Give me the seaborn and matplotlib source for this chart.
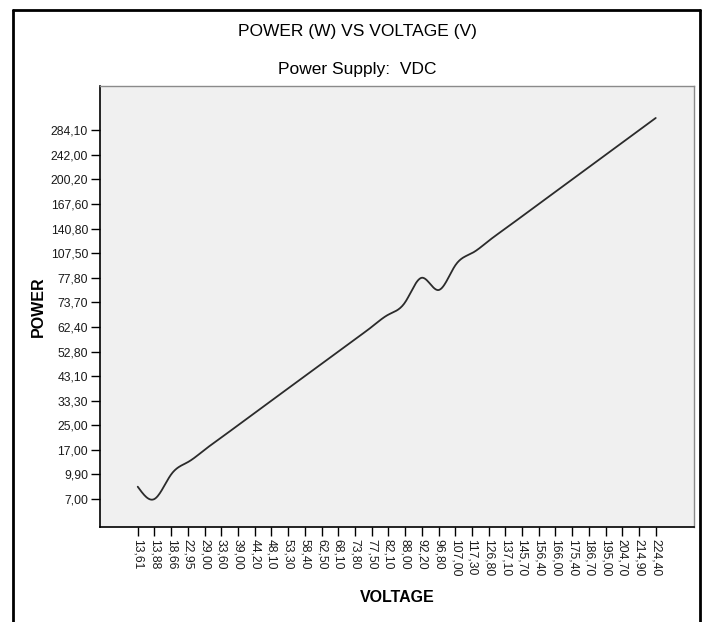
import numpy as np
import pandas as pd
import matplotlib
matplotlib.use("Agg")
import matplotlib.pyplot as plt
import seaborn as sns

# Data (comma decimals as shown by SPSS)
voltage_labels = ["13,61", "13,88", "18,66", "22,95", "29,00", "33,60", "39,00", "44,20",
                  "48,10", "53,30", "58,40", "62,50", "68,10", "73,80", "77,50", "82,10",
                  "88,00", "92,20", "96,80", "107,00", "117,30", "126,80", "137,10", "145,70",
                  "156,40", "166,00", "175,40", "186,70", "195,00", "204,70", "214,90", "224,40"]
# power for each voltage (odd categories are unlabeled on the chart, estimated)
power_values = [8.20, 7.00, 9.90, 13.40, 17.00, 21.00, 25.00, 29.10,
                33.30, 38.20, 43.10, 47.90, 52.80, 57.60, 62.40, 68.00,
                73.70, 77.80, 75.90, 92.60, 107.50, 124.10, 140.80, 154.20,
                167.60, 183.90, 200.20, 221.10, 242.00, 263.00, 284.10, 305.20]

# both axes are categorical, so positions are category ranks
power_sorted = sorted(power_values)
x_pos = np.arange(len(voltage_labels), dtype=float)
y_pos = np.array([power_sorted.index(p) for p in power_values], dtype=float)


def natural_spline(x, y, xs):
    # plain natural cubic spline, SPSS draws the line interpolated like this
    n = len(x)
    h = np.diff(x)
    A = np.zeros((n, n))
    b = np.zeros(n)
    A[0, 0] = 1
    A[-1, -1] = 1
    for i in range(1, n - 1):
        A[i, i - 1] = h[i - 1]
        A[i, i] = 2 * (h[i - 1] + h[i])
        A[i, i + 1] = h[i]
        b[i] = 3 * ((y[i + 1] - y[i]) / h[i] - (y[i] - y[i - 1]) / h[i - 1])
    c = np.linalg.solve(A, b)
    idx = np.clip(np.searchsorted(x, xs) - 1, 0, n - 2)
    dx = xs - x[idx]
    bb = (y[idx + 1] - y[idx]) / h[idx] - h[idx] * (2 * c[idx] + c[idx + 1]) / 3
    d = (c[idx + 1] - c[idx]) / (3 * h[idx])
    return y[idx] + bb * dx + c[idx] * dx ** 2 + d * dx ** 3


xs = np.linspace(x_pos[0], x_pos[-1], 800)
smooth = pd.DataFrame({"x": xs, "y": natural_spline(x_pos, y_pos, xs)})

sns.set_style("white")
plt.rcParams["font.family"] = ["Liberation Sans", "DejaVu Sans"]
plt.rcParams["text.color"] = "black"

fig = plt.figure(figsize=(7.06, 6.22), dpi=100)
ax = fig.add_axes([0.1416, 0.1527, 0.8414, 0.709])
ax.set_facecolor("#f0f0f0")

sns.lineplot(data=smooth, x="x", y="y", ax=ax, color="#2b2b2b", linewidth=1.3, sort=False)

ax.set_xlim(-2.26, 33.29)
ax.set_ylim(-2.28, 33.6)
ax.set_xticks(x_pos)
ax.set_xticklabels(voltage_labels, rotation=270, fontsize=8.7)
ax.set_yticks(np.arange(0, len(power_sorted), 2))
ax.set_yticklabels([f"{p:.2f}".replace(".", ",") for p in power_sorted[::2]], fontsize=8.7)
ax.tick_params(axis="both", direction="out", length=6.5, width=1, color="black",
               pad=2, bottom=True, left=True, labelcolor="#1a1a1a")
ax.set_xlabel("")
ax.set_ylabel("")

for side in ["left", "bottom"]:
    ax.spines[side].set_color("black")
    ax.spines[side].set_linewidth(1.2)
for side in ["top", "right"]:
    ax.spines[side].set_color("#8a8a8a")
    ax.spines[side].set_linewidth(1.0)

fig.text(0.5057, 0.949, "POWER (W) VS VOLTAGE (V)", ha="center", va="center", fontsize=12.5)
fig.text(0.5057, 0.8875, "Power Supply:  VDC", ha="center", va="center", fontsize=12.5)
fig.text(0.562, 0.040, "VOLTAGE", ha="center", va="center", fontsize=11.5, fontweight="bold")
fig.text(0.054, 0.507, "POWER", ha="center", va="center", fontsize=11.5,
         fontweight="bold", rotation=90)

# outer frame (open at the bottom, as cropped in the reference)
fig.add_artist(plt.Line2D([13 / 706, 13 / 706], [0, 1 - 10 / 622], color="black", lw=2))
fig.add_artist(plt.Line2D([13 / 706, 700 / 706], [1 - 10 / 622, 1 - 10 / 622], color="black", lw=2))
fig.add_artist(plt.Line2D([700 / 706, 700 / 706], [0, 1 - 10 / 622], color="black", lw=2))

fig.savefig("out.png", dpi=100)
